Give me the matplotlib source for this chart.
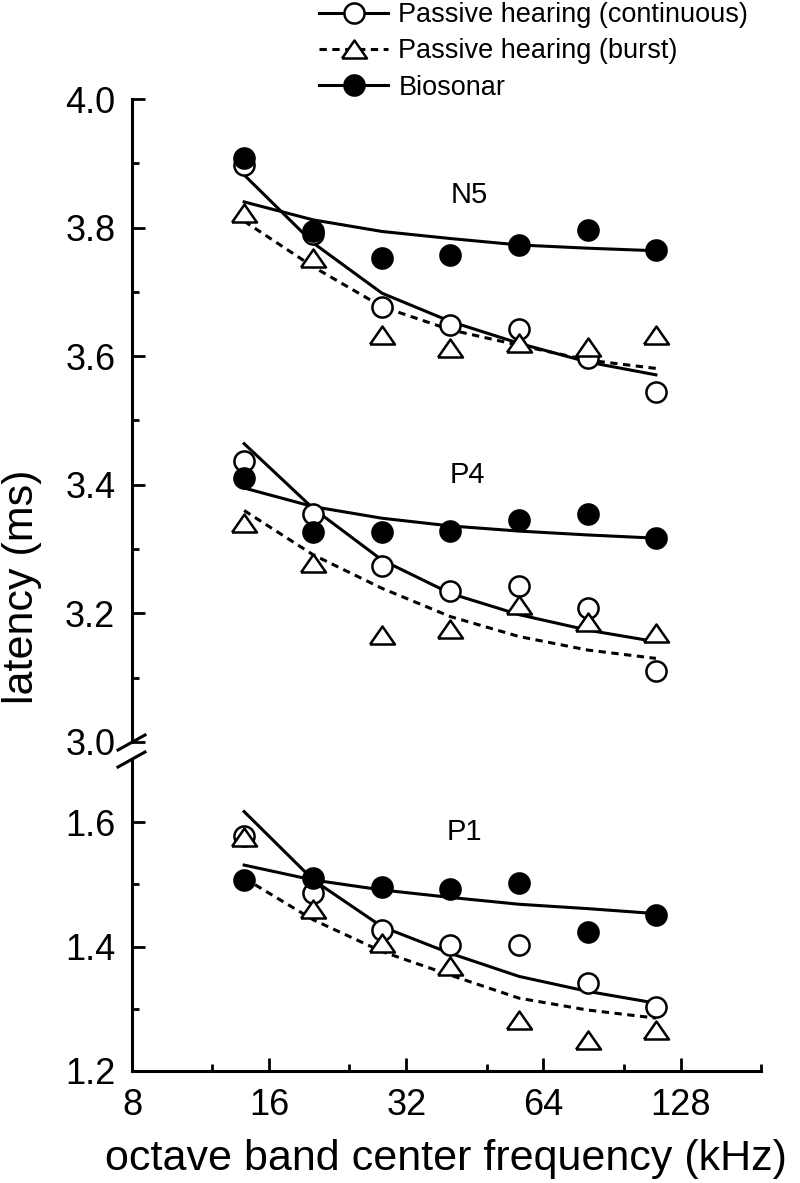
import numpy as np
import matplotlib.pyplot as plt
from matplotlib.lines import Line2D
from matplotlib.ticker import FixedLocator, FormatStrFormatter, NullFormatter

plt.rcParams['font.family'] = ['Liberation Sans', 'DejaVu Sans']

# octave band centres (kHz)
freq = [14.1, 20, 28.3, 40, 56.6, 80, 113]

# N5 latencies (ms)
n5_cont = [3.897, 3.790, 3.677, 3.649, 3.643, 3.597, 3.545]
n5_burst = [3.822, 3.752, 3.633, 3.612, 3.620, 3.615, 3.633]
n5_bio = [3.909, 3.794, 3.752, 3.757, 3.773, 3.796, 3.765]
n5_cont_fit = [3.882, 3.776, 3.698, 3.654, 3.620, 3.591, 3.571]
n5_burst_fit = [3.810, 3.739, 3.677, 3.641, 3.617, 3.594, 3.581]
n5_bio_fit = [3.840, 3.812, 3.794, 3.783, 3.773, 3.768, 3.764]

# P4
p4_cont = [3.437, 3.354, 3.274, 3.235, 3.242, 3.209, 3.111]
p4_burst = [3.340, 3.278, 3.166, 3.175, 3.213, 3.187, 3.169]
p4_bio = [3.410, 3.327, 3.327, 3.328, 3.346, 3.354, 3.317]
p4_cont_fit = [3.464, 3.363, 3.283, 3.231, 3.198, 3.174, 3.156]
p4_burst_fit = [3.360, 3.291, 3.239, 3.195, 3.164, 3.143, 3.130]
p4_bio_fit = [3.395, 3.366, 3.348, 3.336, 3.328, 3.322, 3.317]

# P1
p1_cont = [1.578, 1.486, 1.427, 1.403, 1.403, 1.341, 1.303]
p1_burst = [1.576, 1.461, 1.405, 1.368, 1.282, 1.250, 1.266]
p1_bio = [1.507, 1.510, 1.496, 1.492, 1.502, 1.424, 1.451]
p1_cont_fit = [1.617, 1.507, 1.432, 1.389, 1.352, 1.328, 1.309]
p1_burst_fit = [1.510, 1.443, 1.392, 1.354, 1.317, 1.298, 1.285]
p1_bio_fit = [1.531, 1.507, 1.491, 1.479, 1.468, 1.461, 1.453]

xticks = [8, 16, 32, 64, 128]
xminor = [12, 24, 48, 96, 192]

tri = [(-1, -0.72), (1, -0.72), (0, 0.72), (-1, -0.72)]
LW = 2.2
MEW = 1.8
CS = 14.5
TS = 18
dash = (2.4, 1.8)

fig = plt.figure(figsize=(8, 11.83), dpi=100)
ax_top = fig.add_axes([0.165, 0.3728, 0.786, 0.5435])
ax_bot = fig.add_axes([0.165, 0.0947, 0.786, 0.2629])


def draw(ax, cont, burst, bio, cfit, bfit, sfit):
    ax.plot(freq, cfit, color='black', lw=LW, zorder=2)
    ax.plot(freq, bfit, color='black', lw=LW, dashes=dash, zorder=2)
    ax.plot(freq, sfit, color='black', lw=LW, zorder=2)
    ax.plot(freq, cont, ls='none', marker='o', ms=CS, mfc='white',
            mec='black', mew=MEW, zorder=3)
    ax.plot(freq, burst, ls='none', marker=tri, ms=TS, mfc='white',
            mec='black', mew=MEW, zorder=4)
    ax.plot(freq, bio, ls='none', marker='o', ms=CS, mfc='black',
            mec='black', mew=MEW, zorder=5)


draw(ax_top, n5_cont, n5_burst, n5_bio, n5_cont_fit, n5_burst_fit, n5_bio_fit)
draw(ax_top, p4_cont, p4_burst, p4_bio, p4_cont_fit, p4_burst_fit, p4_bio_fit)
draw(ax_bot, p1_cont, p1_burst, p1_bio, p1_cont_fit, p1_burst_fit, p1_bio_fit)

ax_top.text(44, 3.851, 'N5', fontsize=21, ha='center', va='center')
ax_top.text(43.5, 3.415, 'P4', fontsize=21, ha='center', va='center')
ax_bot.text(43, 1.584, 'P1', fontsize=21, ha='center', va='center')

for ax in (ax_top, ax_bot):
    ax.set_xscale('log', base=2)
    ax.set_xlim(8, 192)
    ax.spines['top'].set_visible(False)
    ax.spines['right'].set_visible(False)
    ax.spines['left'].set_linewidth(LW)
    ax.spines['bottom'].set_linewidth(LW)
    ax.tick_params(which='major', direction='in', length=9.5, width=2,
                   labelsize=26, pad=12)
    ax.tick_params(which='minor', direction='in', length=5, width=2)
    ax.yaxis.set_major_formatter(FormatStrFormatter('%.1f'))

ax_top.set_ylim(3.0, 4.0)
ax_top.yaxis.set_major_locator(FixedLocator([3.0, 3.2, 3.4, 3.6, 3.8, 4.0]))
ax_top.yaxis.set_minor_locator(FixedLocator([3.1, 3.3, 3.5, 3.7, 3.9]))
ax_top.spines['bottom'].set_visible(False)
ax_top.tick_params(axis='x', which='both', bottom=False, labelbottom=False)

ax_bot.set_ylim(1.2, 1.7)
ax_bot.yaxis.set_major_locator(FixedLocator([1.2, 1.4, 1.6]))
ax_bot.yaxis.set_minor_locator(FixedLocator([1.3, 1.5]))
ax_bot.xaxis.set_major_locator(FixedLocator(xticks))
ax_bot.xaxis.set_minor_locator(FixedLocator(xminor))
ax_bot.set_xticklabels([str(t) for t in xticks])
ax_bot.xaxis.set_minor_formatter(NullFormatter())
ax_bot.tick_params(axis='x', pad=12)
ax_bot.set_xlabel('octave band center frequency (kHz)', fontsize=31, labelpad=12)

fig.text(0.028, 0.504, 'latency (ms)', rotation=90, fontsize=31,
         ha='center', va='center')

# axis break marks
W, H = 800, 1183
for yc in (742.5, 759.5):
    fig.add_artist(Line2D([118 / W, 145 / W],
                          [1 - (yc + 7.5) / H, 1 - (yc - 7.5) / H],
                          color='black', lw=LW))

handles = [
    Line2D([], [], color='black', lw=LW, marker='o', ms=CS, mfc='white',
           mec='black', mew=MEW),
    Line2D([], [], color='black', lw=LW, dashes=dash, marker=tri, ms=TS,
           mfc='white', mec='black', mew=MEW),
    Line2D([], [], color='black', lw=LW, marker='o', ms=CS, mfc='black',
           mec='black', mew=MEW),
]
labels = ['Passive hearing (continuous)', 'Passive hearing (burst)', 'Biosonar']
fig.legend(handles, labels, loc='upper left', bbox_to_anchor=(319 / W, 1 - 2 / H),
           frameon=False, fontsize=19.5, handlelength=2.55, handletextpad=0.38,
           labelspacing=0.38, borderpad=0, borderaxespad=0, numpoints=1)

fig.savefig('out.png', dpi=100)
